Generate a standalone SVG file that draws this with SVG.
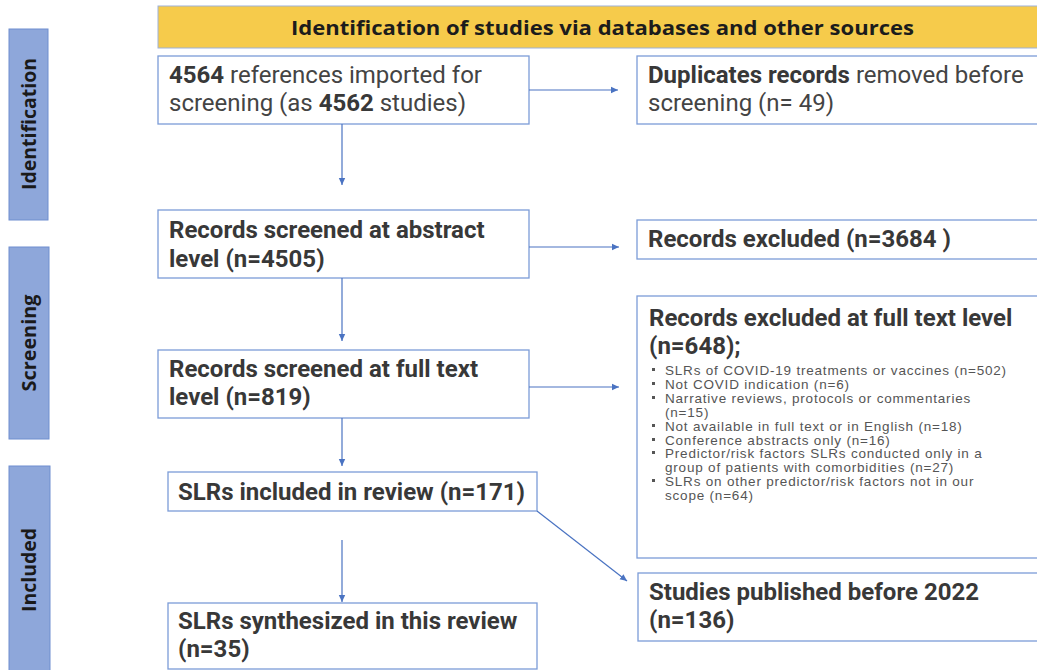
<svg xmlns="http://www.w3.org/2000/svg" width="1037" height="670" viewBox="0 0 1037 670">
<style>
.box{fill:#fff;stroke:#7C9CD8;stroke-width:1.3}
.tab{fill:#8EA7DA;stroke:#6F8ECF;stroke-width:1}
.tabt{font-family:"Open Sans","Liberation Sans",sans-serif;font-weight:700;font-size:19px;fill:#1a1a1a}
.t{font-family:Roboto,"Liberation Sans",sans-serif;font-size:24px;fill:#444}
.b{font-weight:700;fill:#383838}
.s{font-family:"Liberation Sans",Arial,sans-serif;font-size:13.5px;fill:#555;letter-spacing:0.8px}
.c{stroke:#4A73C2;stroke-width:1.2;fill:none}
.dot{fill:#555}
</style>
<defs>
<marker id="ah" markerWidth="8" markerHeight="8" refX="7" refY="4" orient="auto" markerUnits="userSpaceOnUse">
<path d="M0,0.8 L7,4 L0,7.2 Z" fill="#4A73C2"/>
</marker>
</defs>

<g id="tab-identification">
<rect class="tab" x="9" y="29" width="39" height="191"/>
<text class="tabt" x="36" y="124" text-anchor="middle" transform="rotate(-90 36 124)" textLength="132" lengthAdjust="spacingAndGlyphs">Identification</text>
</g>
<g id="tab-screening">
<rect class="tab" x="9" y="247" width="40" height="192"/>
<text class="tabt" x="36" y="343" text-anchor="middle" transform="rotate(-90 36 343)" textLength="97" lengthAdjust="spacingAndGlyphs">Screening</text>
</g>
<g id="tab-included">
<rect class="tab" x="9" y="466" width="41" height="210"/>
<text class="tabt" x="36" y="570" text-anchor="middle" transform="rotate(-90 36 570)" textLength="84" lengthAdjust="spacingAndGlyphs">Included</text>
</g>

<g id="header">
<rect x="158" y="6" width="890" height="42" fill="#F6CB4B" stroke="#9DB1DA" stroke-width="1"/>
<text x="291" y="35" font-family="'Open Sans','Liberation Sans',sans-serif" font-weight="700" font-size="20" fill="#1c1c1c" textLength="623" lengthAdjust="spacingAndGlyphs">Identification of studies via databases and other sources</text>
</g>

<g id="imported">
<rect class="box" x="158" y="56" width="371" height="68"/>
<text class="t" x="169" y="83"><tspan class="b">4564</tspan> references imported for</text>
<text class="t" x="169" y="111">screening (as <tspan class="b">4562</tspan> studies)</text>
</g>
<g id="duplicates">
<rect class="box" x="637" y="56" width="410" height="68"/>
<text class="t" x="648" y="83"><tspan class="b">Duplicates records</tspan> removed before</text>
<text class="t" x="648" y="111">screening (n= 49)</text>
</g>
<g id="abstract">
<rect class="box" x="158" y="210" width="371" height="68"/>
<text class="t b" x="169" y="238">Records screened at abstract</text>
<text class="t b" x="169" y="267">level (n=4505)</text>
</g>
<g id="excluded">
<rect class="box" x="637" y="220" width="410" height="39"/>
<text class="t b" x="648" y="247">Records excluded (n=3684 )</text>
</g>
<g id="fulltext">
<rect class="box" x="158" y="350" width="371" height="68"/>
<text class="t b" x="169" y="377">Records screened at full text</text>
<text class="t b" x="169" y="405">level (n=819)</text>
</g>
<g id="fulltext-excluded">
<rect class="box" x="637" y="296" width="410" height="262"/>
<text class="t b" x="649" y="326">Records excluded at full text level</text>
<text class="t b" x="649" y="354">(n=648);</text>
<g class="dot">
<rect x="652" y="368" width="3" height="3"/>
<rect x="652" y="382" width="3" height="3"/>
<rect x="652" y="396" width="3" height="3"/>
<rect x="652" y="424" width="3" height="3"/>
<rect x="652" y="438" width="3" height="3"/>
<rect x="652" y="451" width="3" height="3"/>
<rect x="652" y="479" width="3" height="3"/>
</g>
<text class="s" x="665" y="375">SLRs of COVID-19 treatments  or vaccines (n=502)</text>
<text class="s" x="665" y="389">Not COVID indication (n=6)</text>
<text class="s" x="665" y="403">Narrative reviews, protocols or commentaries</text>
<text class="s" x="665" y="417">(n=15)</text>
<text class="s" x="665" y="431">Not available in full text or in English (n=18)</text>
<text class="s" x="665" y="445">Conference abstracts only (n=16)</text>
<text class="s" x="665" y="458">Predictor/risk  factors SLRs conducted only in a</text>
<text class="s" x="665" y="472">group of patients with comorbidities (n=27)</text>
<text class="s" x="665" y="486">SLRs on other predictor/risk  factors not in our</text>
<text class="s" x="665" y="500">scope (n=64)</text>
</g>
<g id="included">
<rect class="box" x="168" y="472" width="369" height="39"/>
<text class="t b" x="178" y="500">SLRs included in review (n=171)</text>
</g>
<g id="synthesized">
<rect class="box" x="168" y="603" width="369" height="66"/>
<text class="t b" x="178" y="629">SLRs synthesized  in this review</text>
<text class="t b" x="178" y="657">(n=35)</text>
</g>
<g id="before2022">
<rect class="box" x="638" y="573" width="410" height="68"/>
<text class="t b" x="649" y="600">Studies published before 2022</text>
<text class="t b" x="649" y="628">(n=136)</text>
</g>

<g id="connectors">
<line class="c" x1="529" y1="90" x2="618" y2="90" marker-end="url(#ah)"/>
<line class="c" x1="342" y1="124" x2="342" y2="185" marker-end="url(#ah)"/>
<line class="c" x1="529" y1="247" x2="619" y2="247" marker-end="url(#ah)"/>
<line class="c" x1="342" y1="278" x2="342" y2="341" marker-end="url(#ah)"/>
<line class="c" x1="529" y1="387" x2="619" y2="387" marker-end="url(#ah)"/>
<line class="c" x1="342" y1="418" x2="342" y2="466" marker-end="url(#ah)"/>
<line class="c" x1="342" y1="540" x2="342" y2="602" marker-end="url(#ah)"/>
<line class="c" x1="537" y1="511" x2="627" y2="581" marker-end="url(#ah)"/>
</g>
</svg>
